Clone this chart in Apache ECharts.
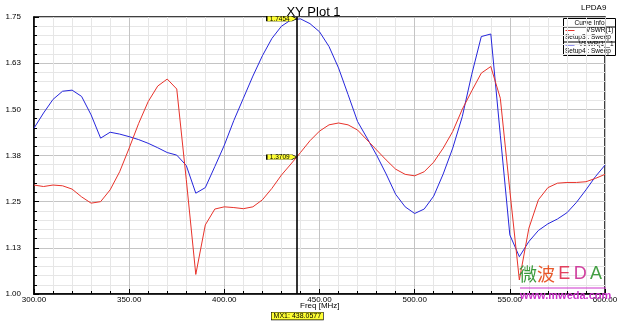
<!DOCTYPE html>
<html>
<head>
<meta charset="utf-8">
<script src="https://cdn.jsdelivr.net/npm/echarts@6/dist/echarts.min.js"></script>
<style>
  html, body { margin: 0; padding: 0; background: #fff; }
  #chart { width: 627px; height: 325px; }
</style>
</head>
<body>
<div id="chart"></div>
<script>
// frequency sweep, 5 MHz steps
var freq = [];
for (var f = 300; f <= 600; f += 5) freq.push(f);

// VSWR(1) - Setup3 : Sweep
var vswrSetup3 = [
  1.295, 1.291, 1.295, 1.293, 1.284, 1.263, 1.246, 1.250, 1.282, 1.331,
  1.395, 1.462, 1.521, 1.563, 1.582, 1.555, 1.310, 1.053, 1.187, 1.230,
  1.236, 1.234, 1.231, 1.236, 1.255, 1.286, 1.322, 1.352, 1.383, 1.415,
  1.441, 1.458, 1.463, 1.458, 1.444, 1.417, 1.390, 1.363, 1.338, 1.324,
  1.320, 1.331, 1.357, 1.395, 1.440, 1.500, 1.550, 1.598, 1.616, 1.530,
  1.280, 1.038, 1.178, 1.255, 1.288, 1.300, 1.302, 1.302, 1.304, 1.313,
  1.324
];

// VSWR(1)_1 - Setup4 : Sweep
var vswrSetup4 = [
  1.449, 1.490, 1.527, 1.549, 1.552, 1.535, 1.485, 1.422, 1.438, 1.433,
  1.426, 1.418, 1.408, 1.396, 1.383, 1.376, 1.348, 1.273, 1.288, 1.345,
  1.403, 1.470, 1.530, 1.590, 1.645, 1.692, 1.725, 1.742, 1.745, 1.732,
  1.710, 1.670, 1.612, 1.540, 1.467, 1.422, 1.376, 1.325, 1.270, 1.236,
  1.218, 1.230, 1.265, 1.325, 1.395, 1.480, 1.595, 1.697, 1.704, 1.430,
  1.160, 1.101, 1.142, 1.172, 1.190, 1.203, 1.220, 1.248, 1.282, 1.318,
  1.349
];

// marker MX1
var markerFreq = 438.0577;
var markerSetup3 = 1.3709;
var markerSetup4 = 1.7454;

var narrow = 'Liberation Sans Narrow, Arial Narrow, Liberation Sans, Arial, sans-serif';
var plain = 'Liberation Sans, Arial, sans-serif';

function pairs(xs, ys) {
  return xs.map(function (x, i) { return [x, ys[i]]; });
}

var flag = 'path://M0,0L25,0L30,3.5L25,7L0,7Z';

function markerPoint(v) {
  return {
    symbol: flag,
    symbolSize: [30, 5],
    symbolOffset: ['-50%', 0],
    itemStyle: { color: '#ffff33', borderColor: '#000', borderWidth: 0.6 },
    label: {
      show: true, position: 'inside', offset: [-2, 0.5],
      color: '#000', fontSize: 6.5, fontFamily: narrow,
      formatter: function (p) { return p.value.toFixed(4); }
    },
    data: [{ coord: [markerFreq, v], value: v }]
  };
}

function txt(x, y, s, extra) {
  var st = { text: s, fontSize: 6.5, fill: '#000', fontFamily: plain, verticalAlign: 'middle' };
  for (var k in extra) st[k] = extra[k];
  return { type: 'text', x: x, y: y, style: st };
}

var chart = echarts.init(document.getElementById('chart'));

var option = {
  backgroundColor: '#fff',
  animation: false,
  title: {
    text: 'XY Plot 1',
    left: 'center', top: 1,
    textStyle: { fontSize: 13, fontWeight: 'normal', color: '#000', fontFamily: narrow }
  },
  grid: {
    left: 34, right: 22, top: 17, bottom: 31,
    containLabel: false, outerBoundsMode: 'none',
    show: true, borderColor: '#000', borderWidth: 1.5
  },
  xAxis: {
    type: 'value', min: 300, max: 600, interval: 50,
    axisLine: { lineStyle: { color: '#000', width: 1.5 } },
    axisTick: { inside: true, length: 5, lineStyle: { color: '#000' } },
    minorTick: { show: true, splitNumber: 5, length: 3, lineStyle: { color: '#000' } },
    axisLabel: {
      margin: 2, color: '#000', fontSize: 8, fontFamily: narrow,
      formatter: function (v) { return v.toFixed(2); }
    },
    splitLine: { lineStyle: { color: '#c4c4c4' } },
    minorSplitLine: { show: true, lineStyle: { color: '#e6e6e6' } }
  },
  yAxis: {
    type: 'value', min: 1.0, max: 1.75, interval: 0.125,
    name: 'Y1', nameLocation: 'middle', nameGap: 30, nameRotate: 90,
    nameTextStyle: { fontSize: 8, color: '#000', fontFamily: narrow },
    axisLine: { show: true, lineStyle: { color: '#000', width: 1.5 } },
    axisTick: { show: true, inside: true, length: 5, lineStyle: { color: '#000' } },
    minorTick: { show: true, splitNumber: 5, length: 3, lineStyle: { color: '#000' } },
    axisLabel: {
      margin: 13, color: '#000', fontSize: 8, fontFamily: narrow,
      formatter: function (v) { return v.toFixed(2); }
    },
    splitLine: { lineStyle: { color: '#c4c4c4' } },
    minorSplitLine: { show: true, lineStyle: { color: '#e6e6e6' } }
  },
  series: [
    {
      name: 'VSWR(1)', type: 'line', symbol: 'none',
      data: pairs(freq, vswrSetup3),
      lineStyle: { color: '#e8332b', width: 1 },
      itemStyle: { color: '#e8332b' },
      markLine: {
        silent: true, symbol: 'none',
        label: { show: false },
        lineStyle: { color: '#000', width: 1.6, type: 'solid' },
        data: [{ xAxis: markerFreq }]
      },
      markPoint: markerPoint(markerSetup3),
      z: 3
    },
    {
      name: 'VSWR(1)_1', type: 'line', symbol: 'none',
      data: pairs(freq, vswrSetup4),
      lineStyle: { color: '#2626dc', width: 1 },
      itemStyle: { color: '#2626dc' },
      markPoint: markerPoint(markerSetup4),
      z: 2
    }
  ],
  graphic: [
    {
      type: 'text', left: 581, top: 4,
      style: { text: 'LPDA9', fontSize: 8, fill: '#000', fontFamily: plain }
    },
    {
      type: 'text', left: 300, top: 302,
      style: { text: 'Freq [MHz]', fontSize: 8, fill: '#000', fontFamily: narrow }
    },
    {
      type: 'text', left: 271, top: 312,
      style: {
        text: 'MX1: 438.0577', fontSize: 7, fill: '#000', fontFamily: narrow,
        backgroundColor: '#ffff33', borderColor: '#000', borderWidth: 0.6, padding: [0, 2]
      }
    },
    // curve info box
    {
      type: 'group', left: 561, top: 18, z: 20,
      children: [
        { type: 'rect', shape: { x: 0, y: 0, width: 52, height: 37 },
          style: { fill: '#fff', stroke: '#000', lineWidth: 1 } },
        { type: 'line', shape: { x1: 0, y1: 8.5, x2: 52, y2: 8.5 }, style: { stroke: '#000', lineWidth: 1 } },
        txt(26, 4.8, 'Curve Info', { align: 'center' }),
        { type: 'line', shape: { x1: 2, y1: 12, x2: 11, y2: 12 }, style: { stroke: '#e8332b', lineWidth: 1 } },
        txt(50, 11.5, 'VSWR(1)', { align: 'right' }),
        txt(1.5, 18.5, 'Setup3 : Sweep'),
        { type: 'line', shape: { x1: 0, y1: 23.5, x2: 52, y2: 23.5 }, style: { stroke: '#000', lineWidth: 1 } },
        { type: 'line', shape: { x1: 2, y1: 26.5, x2: 11, y2: 26.5 }, style: { stroke: '#2626dc', lineWidth: 1 } },
        txt(50, 26.2, 'VSWR(1)_1', { align: 'right' }),
        txt(1.5, 32.3, 'Setup4 : Sweep')
      ]
    },
    // watermark
    {
      type: 'text', left: 519, top: 265, z: 30,
      style: {
        text: '{a|微}{b|波} {c|E} {d|D} {e|A}',
        rich: {
          a: { fontSize: 18, fill: '#3c9a3c', fontFamily: 'Noto Sans CJK SC' },
          b: { fontSize: 18, fill: '#e8572a', fontFamily: 'Noto Sans CJK SC' },
          c: { fontSize: 18, fill: '#e2405e', fontFamily: plain },
          d: { fontSize: 18, fill: '#d0409e', fontFamily: plain },
          e: { fontSize: 18, fill: '#44a044', fontFamily: plain }
        }
      }
    },
    {
      type: 'line', z: 30,
      shape: { x1: 520, y1: 288, x2: 606, y2: 288 },
      style: { stroke: '#cc33cc', lineWidth: 1 }
    },
    {
      type: 'text', left: 520, top: 290, z: 30,
      style: { text: 'www.mweda.com', fontSize: 11, fontWeight: 'bold', fill: '#cc33cc', fontFamily: narrow }
    }
  ]
};

chart.setOption(option);
</script>
</body>
</html>
